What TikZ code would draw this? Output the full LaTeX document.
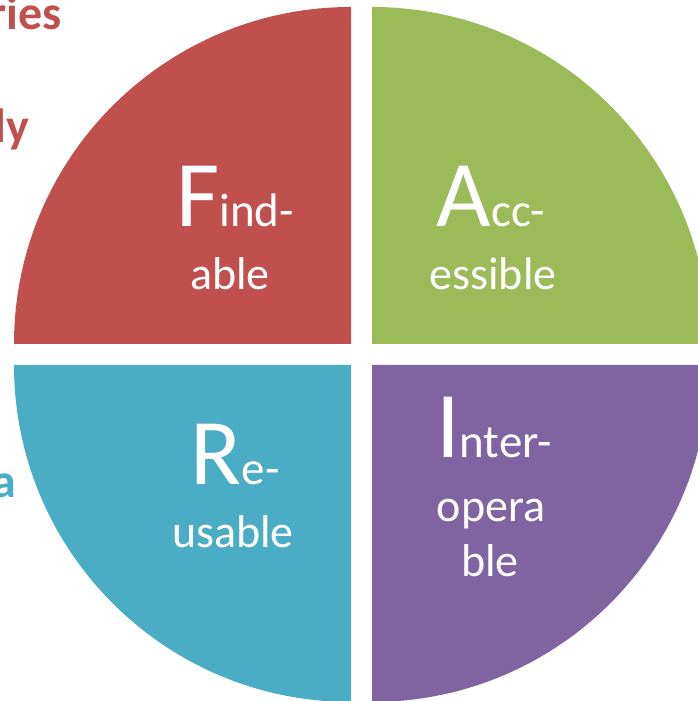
\documentclass[tikz,border=0pt]{standalone}
\usepackage{fontspec}
\setmainfont{Carlito}
\definecolor{fred}{HTML}{C0504D}
\definecolor{fgreen}{HTML}{9BBB59}
\definecolor{fblue}{HTML}{4BACC6}
\definecolor{fpurple}{HTML}{8064A2}
\begin{document}
\begin{tikzpicture}[x=1pt,y=1pt,
  small/.style={font=\fontsize{46}{46}\selectfont},
  lbl/.style={text=white,inner sep=0pt,anchor=base},
  side/.style={font=\fontsize{48}{48}\selectfont\bfseries,inner sep=0pt,anchor=base east}]
\useasboundingbox (0,0) rectangle (698,701);
\clip (0,0) rectangle (698,701);
% quadrants
\fill[fred] (351,357) -- (351,694) arc[start angle=90,end angle=180,radius=337] -- cycle;
\fill[fgreen] (372,357) -- (372,694) arc[start angle=90,end angle=0,radius=337] -- cycle;
\fill[fblue] (351,336) -- (14,336) arc[start angle=180,end angle=270,radius=337] -- cycle;
\fill[fpurple] (372,336) -- (709,336) arc[start angle=0,end angle=-90,radius=337] -- cycle;
% labels
\node[lbl] (f1) at (235,474) {{\fontsize{94}{94}\selectfont F}{\fontsize{47}{47}\selectfont ind-}};
\node[lbl,small] (f2) at (230,411) {able};
\node[lbl] (a1) at (491,474) {{\fontsize{94}{94}\selectfont A}{\fontsize{47}{47}\selectfont cc-}};
\node[lbl,small] (a2) at (493,411) {essible};
\node[lbl] (r1) at (235,216) {{\fontsize{94}{94}\selectfont R}{\fontsize{47}{47}\selectfont e-}};
\node[lbl,small] (r2) at (233,153) {usable};
\node[lbl] (i1) at (494,243) {{\fontsize{94}{94}\selectfont I}{\fontsize{47}{47}\selectfont nter-}};
\node[lbl,small] (i2) at (491,179) {opera};
\node[lbl,small] (i3) at (490,124) {ble};
% cut-off side texts
\node[side,text=fred] (s1) at (62,671) {ries};
\node[side,text=fred] (s2) at (29,558) {ly};
\node[side,text=fblue] (s3) at (16,203) {a};
\end{tikzpicture}
\end{document}
